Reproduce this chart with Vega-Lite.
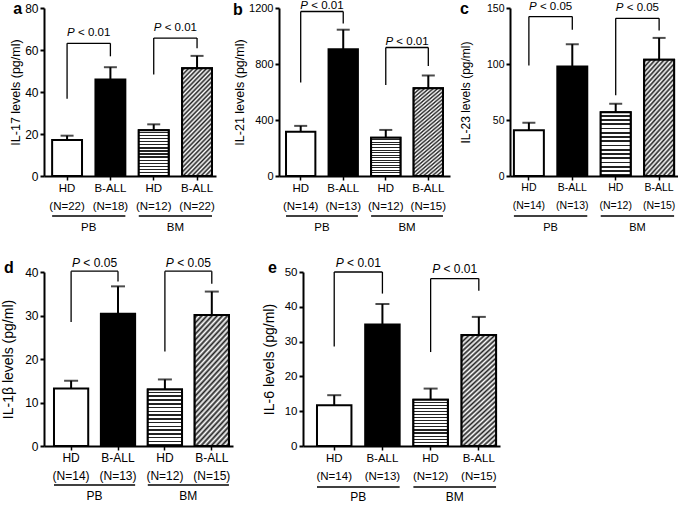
{
"$schema":"https://vega.github.io/schema/vega-lite/v6.json",
"padding":{"left":1,"top":0,"right":0,"bottom":0},
"autosize":{"type":"pad"},
"datasets":{
"bars":[
{"panel":"a","group":"PB","cls":"HD","x":"HD|(N=22)","mean":17.1,"upper":19.2},
{"panel":"a","group":"PB","cls":"B-ALL","x":"B-ALL|(N=18)","mean":46.0,"upper":51.8},
{"panel":"a","group":"BM","cls":"HD","x":"HD|(N=12)","mean":21.8,"upper":24.6},
{"panel":"a","group":"BM","cls":"B-ALL","x":"B-ALL|(N=22)","mean":51.3,"upper":57.2},
{"panel":"b","group":"PB","cls":"HD","x":"HD|(N=14)","mean":316,"upper":358},
{"panel":"b","group":"PB","cls":"B-ALL","x":"B-ALL|(N=13)","mean":905,"upper":1045},
{"panel":"b","group":"BM","cls":"HD","x":"HD|(N=12)","mean":273,"upper":329},
{"panel":"b","group":"BM","cls":"B-ALL","x":"B-ALL|(N=15)","mean":626,"upper":718},
{"panel":"c","group":"PB","cls":"HD","x":"HD|(N=14)","mean":40.9,"upper":47.6},
{"panel":"c","group":"PB","cls":"B-ALL","x":"B-ALL|(N=13)","mean":97.7,"upper":117.7},
{"panel":"c","group":"BM","cls":"HD","x":"HD|(N=12)","mean":56.9,"upper":64.5},
{"panel":"c","group":"BM","cls":"B-ALL","x":"B-ALL|(N=15)","mean":103.9,"upper":123.3},
{"panel":"d","group":"PB","cls":"HD","x":"HD|(N=14)","mean":13.2,"upper":15.0},
{"panel":"d","group":"PB","cls":"B-ALL","x":"B-ALL|(N=13)","mean":30.4,"upper":36.7},
{"panel":"d","group":"BM","cls":"HD","x":"HD|(N=12)","mean":13.0,"upper":15.3},
{"panel":"d","group":"BM","cls":"B-ALL","x":"B-ALL|(N=15)","mean":30.1,"upper":35.5},
{"panel":"e","group":"PB","cls":"HD","x":"HD|(N=14)","mean":11.7,"upper":14.6},
{"panel":"e","group":"PB","cls":"B-ALL","x":"B-ALL|(N=13)","mean":34.9,"upper":40.8},
{"panel":"e","group":"BM","cls":"HD","x":"HD|(N=12)","mean":13.3,"upper":16.5},
{"panel":"e","group":"BM","cls":"B-ALL","x":"B-ALL|(N=15)","mean":31.9,"upper":37.1}
],
"brackets":[
{"panel":"a","group":"PB","left":"HD|(N=22)","right":"B-ALL|(N=18)","lowL":36.8,"top":63.2,"lowR":57.0,"p":"< 0.01"},
{"panel":"a","group":"BM","left":"HD|(N=12)","right":"B-ALL|(N=22)","lowL":48.3,"top":65.7,"lowR":60.8,"p":"< 0.01"},
{"panel":"b","group":"PB","left":"HD|(N=14)","right":"B-ALL|(N=13)","lowL":668,"top":1175,"lowR":1090,"p":"< 0.01"},
{"panel":"b","group":"BM","left":"HD|(N=12)","right":"B-ALL|(N=15)","lowL":650,"top":918,"lowR":786,"p":"< 0.01"},
{"panel":"c","group":"PB","left":"HD|(N=14)","right":"B-ALL|(N=13)","lowL":98.7,"top":142.3,"lowR":130.6,"p":"< 0.05"},
{"panel":"c","group":"BM","left":"HD|(N=12)","right":"B-ALL|(N=15)","lowL":72.2,"top":140.8,"lowR":130.0,"p":"< 0.05"},
{"panel":"d","group":"PB","left":"HD|(N=14)","right":"B-ALL|(N=13)","lowL":28.5,"top":40.2,"lowR":37.8,"p":"< 0.05"},
{"panel":"d","group":"BM","left":"HD|(N=12)","right":"B-ALL|(N=15)","lowL":21.7,"top":40.2,"lowR":37.3,"p":"< 0.05"},
{"panel":"e","group":"PB","left":"HD|(N=14)","right":"B-ALL|(N=13)","lowL":28.6,"top":50.0,"lowR":43.8,"p":"< 0.01"},
{"panel":"e","group":"BM","left":"HD|(N=12)","right":"B-ALL|(N=15)","lowL":27.0,"top":48.1,"lowR":44.6,"p":"< 0.01"}
]
},
"config":{
"font":"Liberation Sans",
"view":{"stroke":null},
"axis":{"domainColor":"#000","domainWidth":2,"tickColor":"#000","tickWidth":2,"tickSize":4,"labelColor":"#000","labelFont":"Liberation Sans","titleFont":"Liberation Sans","titleFontWeight":"normal","titleColor":"#000","grid":false,"labelPadding":2,"labelOverlap":false},
"axisX":{"labelAngle":0,"tickWidth":1.5,"labelLineHeight":18.5,"labelOverlap":false,"labelBound":false},
"bar":{"stroke":"#000","strokeWidth":2},
"text":{"color":"#000"},
"style":{
"hstripe":{"color":{"gradient":"linear","x1":0,"y1":0,"x2":0,"y2":1,"stops":[
{"offset":0,"color":"#fff"},{"offset":0.04,"color":"#fff"},{"offset":0.04,"color":"#222"},{"offset":0.0667,"color":"#222"},
{"offset":0.0667,"color":"#fff"},{"offset":0.1067,"color":"#fff"},{"offset":0.1067,"color":"#222"},{"offset":0.1333,"color":"#222"},
{"offset":0.1333,"color":"#fff"},{"offset":0.1733,"color":"#fff"},{"offset":0.1733,"color":"#222"},{"offset":0.2,"color":"#222"},
{"offset":0.2,"color":"#fff"},{"offset":0.24,"color":"#fff"},{"offset":0.24,"color":"#222"},{"offset":0.2667,"color":"#222"},
{"offset":0.2667,"color":"#fff"},{"offset":0.3067,"color":"#fff"},{"offset":0.3067,"color":"#222"},{"offset":0.3333,"color":"#222"},
{"offset":0.3333,"color":"#fff"},{"offset":0.3733,"color":"#fff"},{"offset":0.3733,"color":"#222"},{"offset":0.4,"color":"#222"},
{"offset":0.4,"color":"#fff"},{"offset":0.44,"color":"#fff"},{"offset":0.44,"color":"#222"},{"offset":0.4667,"color":"#222"},
{"offset":0.4667,"color":"#fff"},{"offset":0.5067,"color":"#fff"},{"offset":0.5067,"color":"#222"},{"offset":0.5333,"color":"#222"},
{"offset":0.5333,"color":"#fff"},{"offset":0.5733,"color":"#fff"},{"offset":0.5733,"color":"#222"},{"offset":0.6,"color":"#222"},
{"offset":0.6,"color":"#fff"},{"offset":0.64,"color":"#fff"},{"offset":0.64,"color":"#222"},{"offset":0.6667,"color":"#222"},
{"offset":0.6667,"color":"#fff"},{"offset":0.7067,"color":"#fff"},{"offset":0.7067,"color":"#222"},{"offset":0.7333,"color":"#222"},
{"offset":0.7333,"color":"#fff"},{"offset":0.7733,"color":"#fff"},{"offset":0.7733,"color":"#222"},{"offset":0.8,"color":"#222"},
{"offset":0.8,"color":"#fff"},{"offset":0.84,"color":"#fff"},{"offset":0.84,"color":"#222"},{"offset":0.8667,"color":"#222"},
{"offset":0.8667,"color":"#fff"},{"offset":0.9067,"color":"#fff"},{"offset":0.9067,"color":"#222"},{"offset":0.9333,"color":"#222"},
{"offset":0.9333,"color":"#fff"},{"offset":0.9733,"color":"#fff"},{"offset":0.9733,"color":"#222"},{"offset":1,"color":"#222"}
]}},
"hatch":{"color":{"gradient":"linear","x1":0,"y1":0,"x2":0.34,"y2":1.19,"stops":[
{"offset":0,"color":"#fff"},{"offset":0.0167,"color":"#222"},{"offset":0.0333,"color":"#fff"},{"offset":0.05,"color":"#222"},{"offset":0.0667,"color":"#fff"},{"offset":0.0833,"color":"#222"},
{"offset":0.1,"color":"#fff"},{"offset":0.1167,"color":"#222"},{"offset":0.1333,"color":"#fff"},{"offset":0.15,"color":"#222"},{"offset":0.1667,"color":"#fff"},{"offset":0.1833,"color":"#222"},
{"offset":0.2,"color":"#fff"},{"offset":0.2167,"color":"#222"},{"offset":0.2333,"color":"#fff"},{"offset":0.25,"color":"#222"},{"offset":0.2667,"color":"#fff"},{"offset":0.2833,"color":"#222"},
{"offset":0.3,"color":"#fff"},{"offset":0.3167,"color":"#222"},{"offset":0.3333,"color":"#fff"},{"offset":0.35,"color":"#222"},{"offset":0.3667,"color":"#fff"},{"offset":0.3833,"color":"#222"},
{"offset":0.4,"color":"#fff"},{"offset":0.4167,"color":"#222"},{"offset":0.4333,"color":"#fff"},{"offset":0.45,"color":"#222"},{"offset":0.4667,"color":"#fff"},{"offset":0.4833,"color":"#222"},
{"offset":0.5,"color":"#fff"},{"offset":0.5167,"color":"#222"},{"offset":0.5333,"color":"#fff"},{"offset":0.55,"color":"#222"},{"offset":0.5667,"color":"#fff"},{"offset":0.5833,"color":"#222"},
{"offset":0.6,"color":"#fff"},{"offset":0.6167,"color":"#222"},{"offset":0.6333,"color":"#fff"},{"offset":0.65,"color":"#222"},{"offset":0.6667,"color":"#fff"},{"offset":0.6833,"color":"#222"},
{"offset":0.7,"color":"#fff"},{"offset":0.7167,"color":"#222"},{"offset":0.7333,"color":"#fff"},{"offset":0.75,"color":"#222"},{"offset":0.7667,"color":"#fff"},{"offset":0.7833,"color":"#222"},
{"offset":0.8,"color":"#fff"},{"offset":0.8167,"color":"#222"},{"offset":0.8333,"color":"#fff"},{"offset":0.85,"color":"#222"},{"offset":0.8667,"color":"#fff"},{"offset":0.8833,"color":"#222"},
{"offset":0.9,"color":"#fff"},{"offset":0.9167,"color":"#222"},{"offset":0.9333,"color":"#fff"},{"offset":0.95,"color":"#222"},{"offset":0.9667,"color":"#fff"},{"offset":0.9833,"color":"#222"},
{"offset":1,"color":"#fff"}
]}}
}
},
"bounds":"full",
"spacing":22,
"vconcat":[
{"bounds":"flush","spacing":63,"hconcat":[
{"width":172,"height":168,
"layer":[
{"data":{"name":"bars"},"transform":[{"filter":"datum.panel=='a'"}],"layer":[
{"mark":{"type":"rule","strokeWidth":2,"color":"#000"},"encoding":{
"x":{"field":"x","type":"nominal","scale":{"domain":["HD|(N=22)","B-ALL|(N=18)","HD|(N=12)","B-ALL|(N=22)"],"paddingInner":0.31,"paddingOuter":0.14,"align":0.67},"axis":{"title":null,"labelExpr":"split(datum.value,'|')","labelFontSize":11.5}},
"y":{"field":"mean","type":"quantitative","scale":{"domain":[0,80],"nice":false},"axis":{"title":"IL-17 levels (pg/ml)","values":[0,20,40,60,80],"tickCount":5,"labelOverlap":false,"labelFontSize":12,"titleFontSize":12.5,"titlePadding":2}},
"y2":{"field":"upper"}}},
{"mark":{"type":"tick","size":13,"thickness":2,"color":"#000"},"encoding":{"x":{"field":"x","type":"nominal"},"y":{"field":"upper","type":"quantitative"}}},
{"mark":{"type":"bar"},"encoding":{"x":{"field":"x","type":"nominal"},"y":{"field":"mean","type":"quantitative"},"fill":{"condition":{"test":"datum.group=='PB' && datum.cls=='B-ALL'","value":"#000"},"value":"#fff"}}},
{"transform":[{"filter":"datum.group=='BM' && datum.cls=='HD'"}],"mark":{"type":"bar","style":"hstripe"},"encoding":{"x":{"field":"x","type":"nominal"},"y":{"field":"mean","type":"quantitative"}}},
{"transform":[{"filter":"datum.group=='BM' && datum.cls=='B-ALL'"}],"mark":{"type":"bar","style":"hatch"},"encoding":{"x":{"field":"x","type":"nominal"},"y":{"field":"mean","type":"quantitative"}}}
]},
{"data":{"name":"brackets"},"transform":[{"filter":"datum.panel=='a'"}],"layer":[
{"mark":{"type":"rule","strokeWidth":1.3,"color":"#000"},"encoding":{"x":{"field":"left","type":"nominal"},"y":{"field":"lowL","type":"quantitative"},"y2":{"field":"top"}}},
{"mark":{"type":"rule","strokeWidth":1.3,"color":"#000"},"encoding":{"x":{"field":"right","type":"nominal"},"y":{"field":"lowR","type":"quantitative"},"y2":{"field":"top"}}},
{"mark":{"type":"rule","strokeWidth":1.3,"color":"#000"},"encoding":{"x":{"field":"left","type":"nominal","bandPosition":0.5},"x2":{"field":"right","bandPosition":0.5},"y":{"field":"top","type":"quantitative"}}},
{"mark":{"type":"text","fontStyle":"italic","fontSize":11.5,"align":"right","baseline":"middle","dx":-14,"dy":-10},"encoding":{"x":{"field":"left","type":"nominal","bandPosition":1.225},"y":{"field":"top","type":"quantitative"},"text":{"value":"P"}}},
{"mark":{"type":"text","fontSize":11.5,"align":"left","baseline":"middle","dx":-10.7,"dy":-10},"encoding":{"x":{"field":"left","type":"nominal","bandPosition":1.225},"y":{"field":"top","type":"quantitative"},"text":{"field":"p"}}},
{"mark":{"type":"rule","strokeWidth":1.5,"color":"#000","yOffset":40},"encoding":{"x":{"field":"left","type":"nominal","bandPosition":0},"x2":{"field":"right","bandPosition":1},"y":{"datum":0,"type":"quantitative"}}},
{"mark":{"type":"text","fontSize":11.5,"align":"center","baseline":"middle","dy":52},"encoding":{"x":{"field":"left","type":"nominal","bandPosition":1.225},"y":{"datum":0,"type":"quantitative"},"text":{"field":"group"}}}
]},
{"data":{"values":[{"letter":"a"}]},"mark":{"type":"text","fontSize":16,"fontWeight":"bold","align":"left","baseline":"alphabetic","dx":-39,"dy":5.5},"encoding":{"x":{"datum":"HD|(N=22)","type":"nominal","bandPosition":0},"y":{"datum":80,"type":"quantitative"},"text":{"field":"letter"}}}
]},
{"bounds":"flush","spacing":60,"hconcat":[
{"width":171,"height":168,
"layer":[
{"data":{"name":"bars"},"transform":[{"filter":"datum.panel=='b'"}],"layer":[
{"mark":{"type":"rule","strokeWidth":2,"color":"#000"},"encoding":{
"x":{"field":"x","type":"nominal","scale":{"domain":["HD|(N=14)","B-ALL|(N=13)","HD|(N=12)","B-ALL|(N=15)"],"paddingInner":0.31,"paddingOuter":0.165,"align":0.5},"axis":{"title":null,"labelExpr":"split(datum.value,'|')","labelFontSize":11.5}},
"y":{"field":"mean","type":"quantitative","scale":{"domain":[0,1200],"nice":false},"axis":{"title":"IL-21 levels (pg/ml)","values":[0,400,800,1200],"tickCount":4,"format":"d","labelOverlap":false,"labelFontSize":11,"titleFontSize":12.5,"titlePadding":2}},
"y2":{"field":"upper"}}},
{"mark":{"type":"tick","size":13,"thickness":2,"color":"#000"},"encoding":{"x":{"field":"x","type":"nominal"},"y":{"field":"upper","type":"quantitative"}}},
{"mark":{"type":"bar"},"encoding":{"x":{"field":"x","type":"nominal"},"y":{"field":"mean","type":"quantitative"},"fill":{"condition":{"test":"datum.group=='PB' && datum.cls=='B-ALL'","value":"#000"},"value":"#fff"}}},
{"transform":[{"filter":"datum.group=='BM' && datum.cls=='HD'"}],"mark":{"type":"bar","style":"hstripe"},"encoding":{"x":{"field":"x","type":"nominal"},"y":{"field":"mean","type":"quantitative"}}},
{"transform":[{"filter":"datum.group=='BM' && datum.cls=='B-ALL'"}],"mark":{"type":"bar","style":"hatch"},"encoding":{"x":{"field":"x","type":"nominal"},"y":{"field":"mean","type":"quantitative"}}}
]},
{"data":{"name":"brackets"},"transform":[{"filter":"datum.panel=='b'"}],"layer":[
{"mark":{"type":"rule","strokeWidth":1.3,"color":"#000"},"encoding":{"x":{"field":"left","type":"nominal"},"y":{"field":"lowL","type":"quantitative"},"y2":{"field":"top"}}},
{"mark":{"type":"rule","strokeWidth":1.3,"color":"#000"},"encoding":{"x":{"field":"right","type":"nominal"},"y":{"field":"lowR","type":"quantitative"},"y2":{"field":"top"}}},
{"mark":{"type":"rule","strokeWidth":1.3,"color":"#000"},"encoding":{"x":{"field":"left","type":"nominal","bandPosition":0.5},"x2":{"field":"right","bandPosition":0.5},"y":{"field":"top","type":"quantitative"}}},
{"mark":{"type":"text","fontStyle":"italic","fontSize":11.5,"align":"right","baseline":"middle","dx":-14,"dy":-5.5},"encoding":{"x":{"field":"left","type":"nominal","bandPosition":1.225},"y":{"field":"top","type":"quantitative"},"text":{"value":"P"}}},
{"mark":{"type":"text","fontSize":11.5,"align":"left","baseline":"middle","dx":-10.7,"dy":-5.5},"encoding":{"x":{"field":"left","type":"nominal","bandPosition":1.225},"y":{"field":"top","type":"quantitative"},"text":{"field":"p"}}},
{"mark":{"type":"rule","strokeWidth":1.5,"color":"#000","yOffset":40},"encoding":{"x":{"field":"left","type":"nominal","bandPosition":0},"x2":{"field":"right","bandPosition":1},"y":{"datum":0,"type":"quantitative"}}},
{"mark":{"type":"text","fontSize":11.5,"align":"center","baseline":"middle","dy":52},"encoding":{"x":{"field":"left","type":"nominal","bandPosition":1.225},"y":{"datum":0,"type":"quantitative"},"text":{"field":"group"}}}
]},
{"data":{"values":[{"letter":"b"}]},"mark":{"type":"text","fontSize":16,"fontWeight":"bold","align":"left","baseline":"alphabetic","dx":-53,"dy":7},"encoding":{"x":{"datum":"HD|(N=14)","type":"nominal","bandPosition":0},"y":{"datum":1200,"type":"quantitative"},"text":{"field":"letter"}}}
]},
{"width":168,"height":168,
"layer":[
{"data":{"name":"bars"},"transform":[{"filter":"datum.panel=='c'"}],"layer":[
{"mark":{"type":"rule","strokeWidth":2,"color":"#000"},"encoding":{
"x":{"field":"x","type":"nominal","scale":{"domain":["HD|(N=14)","B-ALL|(N=13)","HD|(N=12)","B-ALL|(N=15)"],"paddingInner":0.31,"paddingOuter":0.09,"align":0.5},"axis":{"title":null,"labelExpr":"split(datum.value,'|')","labelFontSize":10.5}},
"y":{"field":"mean","type":"quantitative","scale":{"domain":[0,150],"nice":false},"axis":{"title":"IL-23 levels (pg/ml)","values":[0,50,100,150],"tickCount":4,"labelOverlap":false,"labelFontSize":10.5,"titleFontSize":12,"titlePadding":14}},
"y2":{"field":"upper"}}},
{"mark":{"type":"tick","size":13,"thickness":2,"color":"#000"},"encoding":{"x":{"field":"x","type":"nominal"},"y":{"field":"upper","type":"quantitative"}}},
{"mark":{"type":"bar"},"encoding":{"x":{"field":"x","type":"nominal"},"y":{"field":"mean","type":"quantitative"},"fill":{"condition":{"test":"datum.group=='PB' && datum.cls=='B-ALL'","value":"#000"},"value":"#fff"}}},
{"transform":[{"filter":"datum.group=='BM' && datum.cls=='HD'"}],"mark":{"type":"bar","style":"hstripe"},"encoding":{"x":{"field":"x","type":"nominal"},"y":{"field":"mean","type":"quantitative"}}},
{"transform":[{"filter":"datum.group=='BM' && datum.cls=='B-ALL'"}],"mark":{"type":"bar","style":"hatch"},"encoding":{"x":{"field":"x","type":"nominal"},"y":{"field":"mean","type":"quantitative"}}}
]},
{"data":{"name":"brackets"},"transform":[{"filter":"datum.panel=='c'"}],"layer":[
{"mark":{"type":"rule","strokeWidth":1.3,"color":"#000"},"encoding":{"x":{"field":"left","type":"nominal"},"y":{"field":"lowL","type":"quantitative"},"y2":{"field":"top"}}},
{"mark":{"type":"rule","strokeWidth":1.3,"color":"#000"},"encoding":{"x":{"field":"right","type":"nominal"},"y":{"field":"lowR","type":"quantitative"},"y2":{"field":"top"}}},
{"mark":{"type":"rule","strokeWidth":1.3,"color":"#000"},"encoding":{"x":{"field":"left","type":"nominal","bandPosition":0.5},"x2":{"field":"right","bandPosition":0.5},"y":{"field":"top","type":"quantitative"}}},
{"mark":{"type":"text","fontStyle":"italic","fontSize":11.5,"align":"right","baseline":"middle","dx":-14,"dy":-10},"encoding":{"x":{"field":"left","type":"nominal","bandPosition":1.225},"y":{"field":"top","type":"quantitative"},"text":{"value":"P"}}},
{"mark":{"type":"text","fontSize":11.5,"align":"left","baseline":"middle","dx":-10.7,"dy":-10},"encoding":{"x":{"field":"left","type":"nominal","bandPosition":1.225},"y":{"field":"top","type":"quantitative"},"text":{"field":"p"}}},
{"mark":{"type":"rule","strokeWidth":1.5,"color":"#000","yOffset":40},"encoding":{"x":{"field":"left","type":"nominal","bandPosition":0},"x2":{"field":"right","bandPosition":1},"y":{"datum":0,"type":"quantitative"}}},
{"mark":{"type":"text","fontSize":11,"align":"center","baseline":"middle","dy":52},"encoding":{"x":{"field":"left","type":"nominal","bandPosition":1.225},"y":{"datum":0,"type":"quantitative"},"text":{"field":"group"}}}
]},
{"data":{"values":[{"letter":"c"}]},"mark":{"type":"text","fontSize":16,"fontWeight":"bold","align":"left","baseline":"alphabetic","dx":-54,"dy":6},"encoding":{"x":{"datum":"HD|(N=14)","type":"nominal","bandPosition":0},"y":{"datum":150,"type":"quantitative"},"text":{"field":"letter"}}}
]}
]}
]},
{"bounds":"flush","spacing":70,"hconcat":[
{"width":189,"height":174,
"layer":[
{"data":{"name":"bars"},"transform":[{"filter":"datum.panel=='d'"}],"layer":[
{"mark":{"type":"rule","strokeWidth":2,"color":"#000"},"encoding":{
"x":{"field":"x","type":"nominal","scale":{"domain":["HD|(N=14)","B-ALL|(N=13)","HD|(N=12)","B-ALL|(N=15)"],"paddingInner":0.27,"paddingOuter":0.15,"align":0.71},"axis":{"title":null,"labelExpr":"split(datum.value,'|')","labelFontSize":12}},
"y":{"field":"mean","type":"quantitative","scale":{"domain":[0,40],"nice":false},"axis":{"title":"IL-1β levels (pg/ml)","values":[0,10,20,30,40],"tickCount":5,"labelOverlap":false,"labelFontSize":12,"titleFontSize":14,"titlePadding":9.5}},
"y2":{"field":"upper"}}},
{"mark":{"type":"tick","size":14,"thickness":2,"color":"#000"},"encoding":{"x":{"field":"x","type":"nominal"},"y":{"field":"upper","type":"quantitative"}}},
{"mark":{"type":"bar"},"encoding":{"x":{"field":"x","type":"nominal"},"y":{"field":"mean","type":"quantitative"},"fill":{"condition":{"test":"datum.group=='PB' && datum.cls=='B-ALL'","value":"#000"},"value":"#fff"}}},
{"transform":[{"filter":"datum.group=='BM' && datum.cls=='HD'"}],"mark":{"type":"bar","style":"hstripe"},"encoding":{"x":{"field":"x","type":"nominal"},"y":{"field":"mean","type":"quantitative"}}},
{"transform":[{"filter":"datum.group=='BM' && datum.cls=='B-ALL'"}],"mark":{"type":"bar","style":"hatch"},"encoding":{"x":{"field":"x","type":"nominal"},"y":{"field":"mean","type":"quantitative"}}}
]},
{"data":{"name":"brackets"},"transform":[{"filter":"datum.panel=='d'"}],"layer":[
{"mark":{"type":"rule","strokeWidth":1.3,"color":"#000"},"encoding":{"x":{"field":"left","type":"nominal"},"y":{"field":"lowL","type":"quantitative"},"y2":{"field":"top"}}},
{"mark":{"type":"rule","strokeWidth":1.3,"color":"#000"},"encoding":{"x":{"field":"right","type":"nominal"},"y":{"field":"lowR","type":"quantitative"},"y2":{"field":"top"}}},
{"mark":{"type":"rule","strokeWidth":1.3,"color":"#000"},"encoding":{"x":{"field":"left","type":"nominal","bandPosition":0.5},"x2":{"field":"right","bandPosition":0.5},"y":{"field":"top","type":"quantitative"}}},
{"mark":{"type":"text","fontStyle":"italic","fontSize":12,"align":"right","baseline":"middle","dx":-14.5,"dy":-8},"encoding":{"x":{"field":"left","type":"nominal","bandPosition":1.185},"y":{"field":"top","type":"quantitative"},"text":{"value":"P"}}},
{"mark":{"type":"text","fontSize":12,"align":"left","baseline":"middle","dx":-11.2,"dy":-8},"encoding":{"x":{"field":"left","type":"nominal","bandPosition":1.185},"y":{"field":"top","type":"quantitative"},"text":{"field":"p"}}},
{"mark":{"type":"rule","strokeWidth":1.5,"color":"#000","yOffset":39},"encoding":{"x":{"field":"left","type":"nominal","bandPosition":0},"x2":{"field":"right","bandPosition":1},"y":{"datum":0,"type":"quantitative"}}},
{"mark":{"type":"text","fontSize":12,"align":"center","baseline":"middle","dy":50},"encoding":{"x":{"field":"left","type":"nominal","bandPosition":1.185},"y":{"datum":0,"type":"quantitative"},"text":{"field":"group"}}}
]},
{"data":{"values":[{"letter":"d"}]},"mark":{"type":"text","fontSize":16,"fontWeight":"bold","align":"left","baseline":"alphabetic","dx":-50,"dy":1},"encoding":{"x":{"datum":"HD|(N=14)","type":"nominal","bandPosition":0},"y":{"datum":40,"type":"quantitative"},"text":{"field":"letter"}}}
]},
{"width":197,"height":174,
"layer":[
{"data":{"name":"bars"},"transform":[{"filter":"datum.panel=='e'"}],"layer":[
{"mark":{"type":"rule","strokeWidth":2,"color":"#000"},"encoding":{
"x":{"field":"x","type":"nominal","scale":{"domain":["HD|(N=14)","B-ALL|(N=13)","HD|(N=12)","B-ALL|(N=15)"],"paddingInner":0.285,"paddingOuter":0.186,"align":0.78},"axis":{"title":null,"labelExpr":"split(datum.value,'|')","labelFontSize":11.5}},
"y":{"field":"mean","type":"quantitative","scale":{"domain":[0,50],"nice":false},"axis":{"title":"IL-6 levels (pg/ml)","values":[0,10,20,30,40,50],"tickCount":6,"labelOverlap":false,"labelFontSize":11.5,"titleFontSize":14,"titlePadding":7.5}},
"y2":{"field":"upper"}}},
{"mark":{"type":"tick","size":14,"thickness":2,"color":"#000"},"encoding":{"x":{"field":"x","type":"nominal"},"y":{"field":"upper","type":"quantitative"}}},
{"mark":{"type":"bar"},"encoding":{"x":{"field":"x","type":"nominal"},"y":{"field":"mean","type":"quantitative"},"fill":{"condition":{"test":"datum.group=='PB' && datum.cls=='B-ALL'","value":"#000"},"value":"#fff"}}},
{"transform":[{"filter":"datum.group=='BM' && datum.cls=='HD'"}],"mark":{"type":"bar","style":"hstripe"},"encoding":{"x":{"field":"x","type":"nominal"},"y":{"field":"mean","type":"quantitative"}}},
{"transform":[{"filter":"datum.group=='BM' && datum.cls=='B-ALL'"}],"mark":{"type":"bar","style":"hatch"},"encoding":{"x":{"field":"x","type":"nominal"},"y":{"field":"mean","type":"quantitative"}}}
]},
{"data":{"name":"brackets"},"transform":[{"filter":"datum.panel=='e'"}],"layer":[
{"mark":{"type":"rule","strokeWidth":1.3,"color":"#000"},"encoding":{"x":{"field":"left","type":"nominal"},"y":{"field":"lowL","type":"quantitative"},"y2":{"field":"top"}}},
{"mark":{"type":"rule","strokeWidth":1.3,"color":"#000"},"encoding":{"x":{"field":"right","type":"nominal"},"y":{"field":"lowR","type":"quantitative"},"y2":{"field":"top"}}},
{"mark":{"type":"rule","strokeWidth":1.3,"color":"#000"},"encoding":{"x":{"field":"left","type":"nominal","bandPosition":0.5},"x2":{"field":"right","bandPosition":0.5},"y":{"field":"top","type":"quantitative"}}},
{"mark":{"type":"text","fontStyle":"italic","fontSize":12,"align":"right","baseline":"middle","dx":-14.5,"dy":-9.5},"encoding":{"x":{"field":"left","type":"nominal","bandPosition":1.199},"y":{"field":"top","type":"quantitative"},"text":{"value":"P"}}},
{"mark":{"type":"text","fontSize":12,"align":"left","baseline":"middle","dx":-11.2,"dy":-9.5},"encoding":{"x":{"field":"left","type":"nominal","bandPosition":1.199},"y":{"field":"top","type":"quantitative"},"text":{"field":"p"}}},
{"mark":{"type":"rule","strokeWidth":1.5,"color":"#000","yOffset":41},"encoding":{"x":{"field":"left","type":"nominal","bandPosition":0},"x2":{"field":"right","bandPosition":1},"y":{"datum":0,"type":"quantitative"}}},
{"mark":{"type":"text","fontSize":12,"align":"center","baseline":"middle","dy":51},"encoding":{"x":{"field":"left","type":"nominal","bandPosition":1.199},"y":{"datum":0,"type":"quantitative"},"text":{"field":"group"}}}
]},
{"data":{"values":[{"letter":"e"}]},"mark":{"type":"text","fontSize":16,"fontWeight":"bold","align":"left","baseline":"alphabetic","dx":-49,"dy":1},"encoding":{"x":{"datum":"HD|(N=14)","type":"nominal","bandPosition":0},"y":{"datum":50,"type":"quantitative"},"text":{"field":"letter"}}}
]}
]}
]
}
